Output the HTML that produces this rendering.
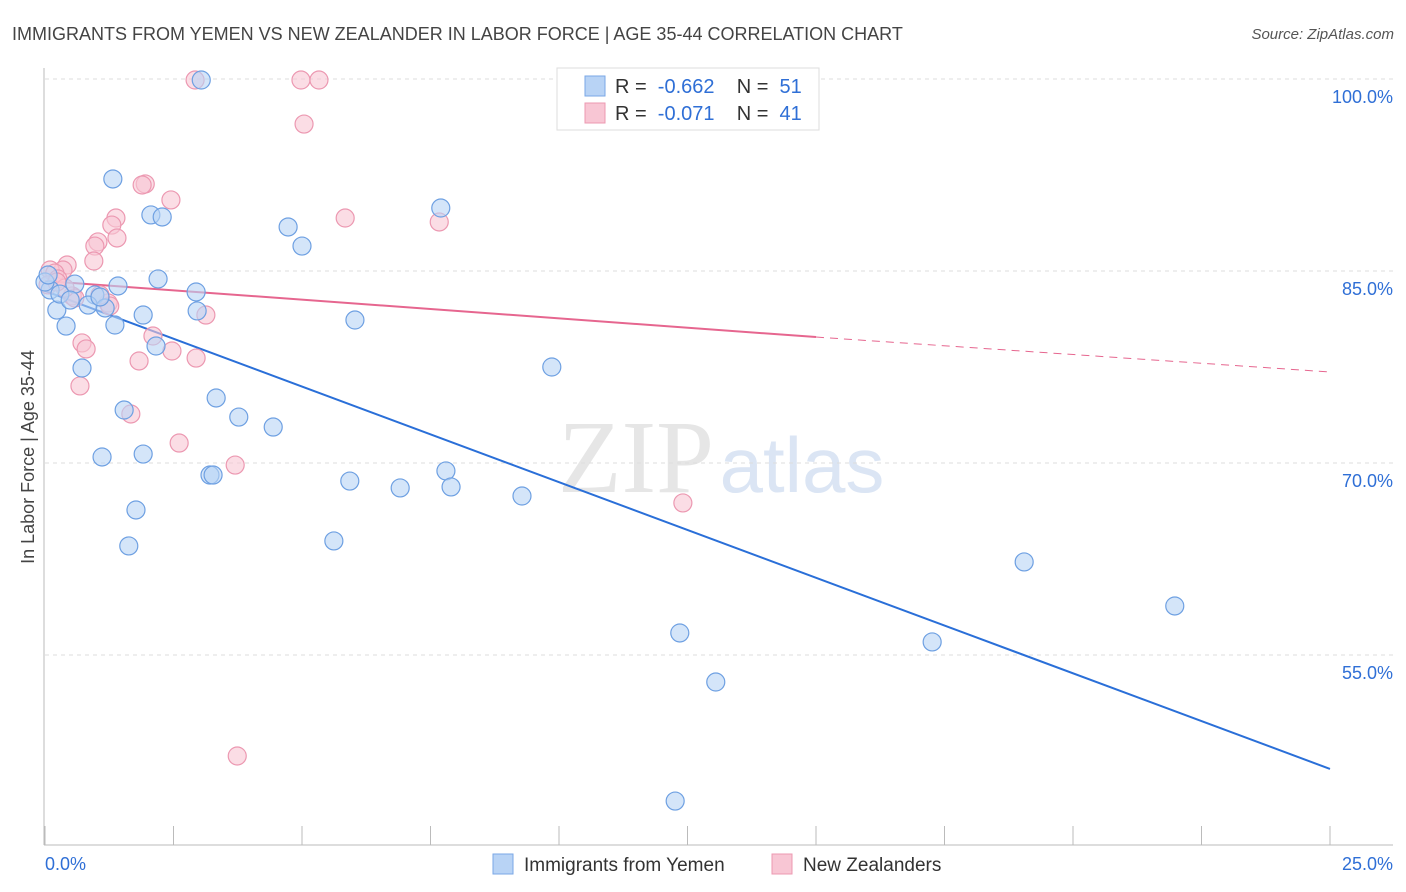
<!DOCTYPE html>
<html><head><meta charset="utf-8"><style>
body{margin:0;background:#fff;font-family:"Liberation Sans",sans-serif;}
svg{display:block}
</style></head><body>
<svg id="chart" width="1406" height="892" xmlns="http://www.w3.org/2000/svg">
<text x="12" y="40" font-size="18" fill="#444">IMMIGRANTS FROM YEMEN VS NEW ZEALANDER IN LABOR FORCE | AGE 35-44 CORRELATION CHART</text>
<text x="1394" y="39" font-size="15" fill="#555" font-style="italic" text-anchor="end">Source: ZipAtlas.com</text>
<text x="636" y="492" font-size="104" fill="#e6e6e6" font-family="Liberation Serif,serif" text-anchor="middle">ZIP</text>
<text x="802" y="492" font-size="78" fill="#dbe5f4" text-anchor="middle">atlas</text>
<g id="grid"></g><g id="axes"></g><g id="lines"></g><g id="pts"></g>
<text transform="translate(34,457) rotate(-90)" font-size="18" fill="#444" text-anchor="middle">In Labor Force | Age 35-44</text>
<g>
<rect x="557" y="68" width="262" height="62" fill="#fff" stroke="#ddd"/>
<rect x="585" y="76" width="20" height="20" fill="#b8d3f5" stroke="#7aa7e6"/>
<rect x="585" y="103" width="20" height="20" fill="#f8c6d4" stroke="#ec98b1"/>
<text x="615" y="93" font-size="20" fill="#333" xml:space="preserve">R =  <tspan fill="#2f6fd6">-0.662</tspan>    N =  <tspan fill="#2f6fd6">51</tspan></text>
<text x="615" y="120" font-size="20" fill="#333" xml:space="preserve">R =  <tspan fill="#2f6fd6">-0.071</tspan>    N =  <tspan fill="#2f6fd6">41</tspan></text>
</g>
<g>
<rect x="493" y="854" width="20" height="20" fill="#b8d3f5" stroke="#7aa7e6"/>
<text x="524" y="871" font-size="19" fill="#333">Immigrants from Yemen</text>
<rect x="772" y="854" width="20" height="20" fill="#f8c6d4" stroke="#ec98b1"/>
<text x="803" y="871" font-size="19" fill="#333">New Zealanders</text>
</g>
</svg>
<script>
const xTicks=[0,2.5,5,7.5,10,12.5,15,17.5,20,22.5,25];
const yTicks=[55,70,85,100];
const yTickLabels=["55.0%","70.0%","85.0%","100.0%"];
const xEndLabels=["0.0%","25.0%"];
const blueX=[1.32,2.06,2.28,4.73,5.00,7.70,2.20,1.42,2.94,2.96,1.91,6.03,0.41,1.36,0.23,0.10,0.58,0.97,0.84,1.17,2.16,0.72,9.86,1.54,3.33,3.77,4.44,1.11,1.91,3.21,3.27,7.80,5.93,7.90,6.91,9.28,1.77,1.63,5.62,19.05,21.98,12.35,17.26,13.05,12.26,0.0,0.29,0.49,1.07,0.06,3.04];
const blueY=[92.19,89.38,89.22,88.44,86.95,89.92,84.38,83.83,83.36,81.88,81.56,81.17,80.70,80.78,81.95,83.52,83.98,83.13,82.34,82.11,79.14,77.42,77.50,74.14,75.08,73.59,72.81,70.47,70.70,69.06,69.06,69.38,68.59,68.13,68.05,67.42,66.33,63.52,63.91,62.27,58.83,56.72,56.02,52.89,43.59,84.14,83.20,82.73,82.97,84.69,99.92];
const pinkX=[2.92,4.98,5.33,5.04,1.95,1.89,2.45,5.84,7.67,1.38,1.30,1.40,1.03,0.97,0.95,0.43,0.35,0.10,0.19,0.25,0.06,0.53,1.23,1.26,3.13,2.10,0.72,0.80,2.47,1.83,2.94,0.68,1.67,2.61,3.70,12.41,3.74,0.58,0.39,0.23,1.07];
const pinkY=[99.92,99.92,99.92,96.48,91.80,91.72,90.55,89.14,88.83,89.14,88.59,87.58,87.27,86.95,85.78,85.47,85.08,85.08,84.84,84.38,83.91,83.05,82.50,82.27,81.56,79.92,79.38,78.91,78.75,77.97,78.20,76.02,73.83,71.56,69.84,66.88,47.11,82.89,83.67,84.14,83.13];
const blueTrend=[83.44,46.1];
const pinkTrend=[84.22,79.84,77.11];
const trendX=[0,15,25];
const sx=v=>45+v/25*1285;
const sy=v=>79+(100-v)*12.8;
const NS="http://www.w3.org/2000/svg";
function mk(tag,attrs,parent){const e=document.createElementNS(NS,tag);for(const k in attrs)e.setAttribute(k,attrs[k]);document.getElementById(parent).appendChild(e);return e;}
yTicks.forEach((t,i)=>{
 const g=mk('line',{x1:45,x2:1393,y1:sy(t),y2:sy(t),stroke:'#ddd','stroke-dasharray':'4,4'},'grid');
 
 
 const l=mk('text',{x:1393,y:sy(t)+24,'font-size':18,fill:'#2f6fd6','text-anchor':'end'},'grid');
 l.textContent=yTickLabels[i];
 
 
});
const ya=mk('line',{x1:44,x2:44,y1:68,y2:845,stroke:'#bbb'},'axes');


const xa=mk('line',{x1:44,x2:1393,y1:845,y2:845,stroke:'#bbb'},'axes');


xTicks.forEach(t=>{
 const tk=mk('line',{x1:sx(t),x2:sx(t),y1:826,y2:845,stroke:'#bbb'},'axes');
 
 
});
[[0,'start',45],[1,'end',1393]].forEach(([i,a,x])=>{
 const l=mk('text',{x:x,y:870,'font-size':18,fill:'#2f6fd6','text-anchor':a},'axes');
 l.textContent=xEndLabels[i];
 
 
});
function dot(x,y,f,s){
 const c=mk('circle',{cx:sx(x),cy:sy(y),r:9,fill:f,'fill-opacity':0.6,stroke:s,'stroke-width':1.2},'pts');
 
 
}
pinkX.forEach((x,i)=>dot(x,pinkY[i],'#f8c6d4','#ec98b1'));
blueX.forEach((x,i)=>dot(x,blueY[i],'#b8d3f5','#6ea0e2'));
const bl=mk('line',{x1:sx(trendX[0]),y1:sy(blueTrend[0]),x2:sx(trendX[2]),y2:sy(blueTrend[1]),stroke:'#2a6fd8','stroke-width':2},'lines');


const pl=mk('line',{x1:sx(trendX[0]),y1:sy(pinkTrend[0]),x2:sx(trendX[1]),y2:sy(pinkTrend[1]),stroke:'#e6668f','stroke-width':2},'lines');


const pd=mk('line',{x1:sx(trendX[1]),y1:sy(pinkTrend[1]),x2:sx(trendX[2]),y2:sy(pinkTrend[2]),stroke:'#e6668f','stroke-width':1,'stroke-dasharray':'8,6'},'lines');


</script>
</body></html>
